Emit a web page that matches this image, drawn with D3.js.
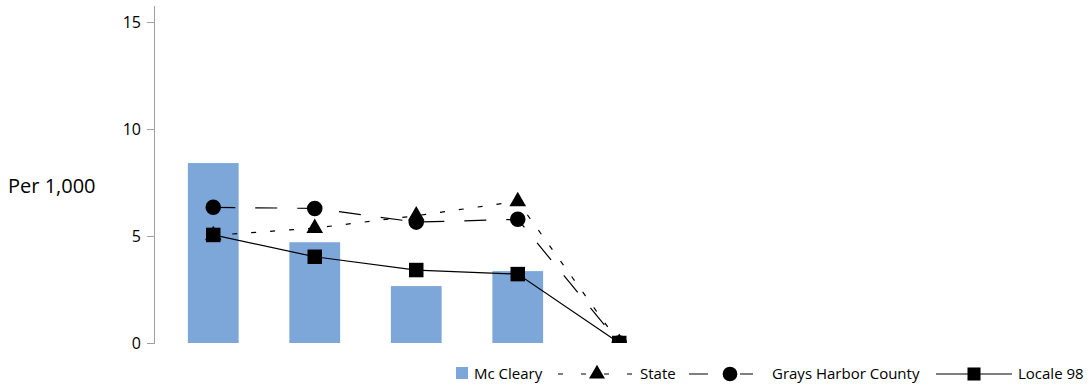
<!DOCTYPE html>
<html>
<head>
<meta charset="utf-8">
<script src="https://cdn.jsdelivr.net/npm/d3@7"></script>
<style>
  body { margin: 0; background: #fff; }
  text { font-family: "Open Sans", sans-serif; fill: #000; }
</style>
</head>
<body>
<div id="chart"></div>
<script>
const categories = ["c1", "c2", "c3", "c4", "c5"];
const mcCleary = [8.41, 4.71, 2.66, 3.36, 0];
const state = [5.03, 5.37, 5.95, 6.62, 0];
const graysHarbor = [6.34, 6.29, 5.65, 5.78, 0];
const locale98 = [5.05, 4.03, 3.41, 3.22, 0];
const yTicks = [0, 5, 10, 15];

const width = 1089, height = 388;

const x = d3.scaleBand()
    .domain(categories)
    .range([162.5, 670])
    .paddingInner(0.5)
    .paddingOuter(0.25);

const y = d3.scaleLinear()
    .domain([0, 15.75])
    .range([343, 6]);

const svg = d3.select("#chart")
    .append("svg")
    .attr("width", width)
    .attr("height", height);

svg.append("defs").append("clipPath")
    .attr("id", "plot")
    .append("rect")
    .attr("x", 155).attr("y", 0)
    .attr("width", width - 155).attr("height", 343);

// axis
const yAxis = svg.append("g")
    .attr("transform", "translate(155,0)")
    .call(d3.axisLeft(y).tickValues(yTicks).tickSize(8).tickPadding(6));
yAxis.select(".domain").attr("stroke", "#a0a0a0").attr("d", `M-0.5,${y(0)}V6`);
yAxis.selectAll(".tick line").attr("stroke", "#a0a0a0");
yAxis.selectAll(".tick text").style("font-size", "16px").attr("fill", "#000");

svg.append("text")
    .attr("x", 8).attr("y", 193)
    .style("font-size", "20px")
    .text("Per 1,000");

const plot = svg.append("g").attr("clip-path", "url(#plot)");

plot.selectAll(".bar")
    .data(mcCleary)
    .enter()
    .append("rect")
    .attr("class", "bar")
    .attr("x", (d, i) => x(categories[i]))
    .attr("y", (d) => y(d))
    .attr("width", x.bandwidth())
    .attr("height", (d) => y(0) - y(d))
    .attr("fill", "#7da7d9");

const cx = (i) => x(categories[i]) + x.bandwidth() / 2;
const line = d3.line().x((d, i) => cx(i)).y((d) => y(d));

const series = [
    {name: "State", values: state, dash: "5,14", shape: d3.symbolTriangle, size: 120},
    {name: "Grays Harbor County", values: graysHarbor, dash: "22,20", shape: d3.symbolCircle, size: 190},
    {name: "Locale 98", values: locale98, dash: null, shape: d3.symbolSquare, size: 210}
];

series.forEach((s) => {
    plot.append("path")
        .datum(s.values)
        .attr("d", line)
        .attr("fill", "none")
        .attr("stroke", "#000")
        .attr("stroke-width", 1.2)
        .attr("stroke-dasharray", s.dash);
});

series.forEach((s) => {
    plot.selectAll(null)
        .data(s.values)
        .enter()
        .append("path")
        .attr("transform", (d, i) => `translate(${cx(i)},${y(d)})`)
        .attr("d", d3.symbol().type(s.shape).size(s.size))
        .attr("fill", "#000");
});

// legend
const legend = svg.append("g").style("font-size", "15px");
const ly = 374;

legend.append("rect")
    .attr("x", 456).attr("y", 367).attr("width", 12).attr("height", 12)
    .attr("fill", "#7da7d9");
legend.append("text").attr("x", 474).attr("y", ly + 5).text("Mc Cleary");

legend.append("path")
    .attr("d", `M558,${ly}H632`)
    .attr("stroke", "#000").attr("stroke-width", 1.2)
    .attr("stroke-dasharray", "5,18");
legend.append("path")
    .attr("transform", `translate(597,${ly})`)
    .attr("d", d3.symbol().type(d3.symbolTriangle).size(110))
    .attr("fill", "#000");
legend.append("text").attr("x", 640).attr("y", ly + 5).text("State");

legend.append("path")
    .attr("d", `M689,${ly}H708M740,${ly}H753`)
    .attr("stroke", "#000").attr("stroke-width", 1.2);
legend.append("path")
    .attr("transform", `translate(730,${ly})`)
    .attr("d", d3.symbol().type(d3.symbolCircle).size(170))
    .attr("fill", "#000");
legend.append("text").attr("x", 772).attr("y", ly + 5).text("Grays Harbor County");

legend.append("path")
    .attr("d", `M936,${ly}H1012`)
    .attr("stroke", "#000").attr("stroke-width", 1.2);
legend.append("path")
    .attr("transform", `translate(974,${ly})`)
    .attr("d", d3.symbol().type(d3.symbolSquare).size(170))
    .attr("fill", "#000");
legend.append("text").attr("x", 1018).attr("y", ly + 5).text("Locale 98");
</script>
</body>
</html>
